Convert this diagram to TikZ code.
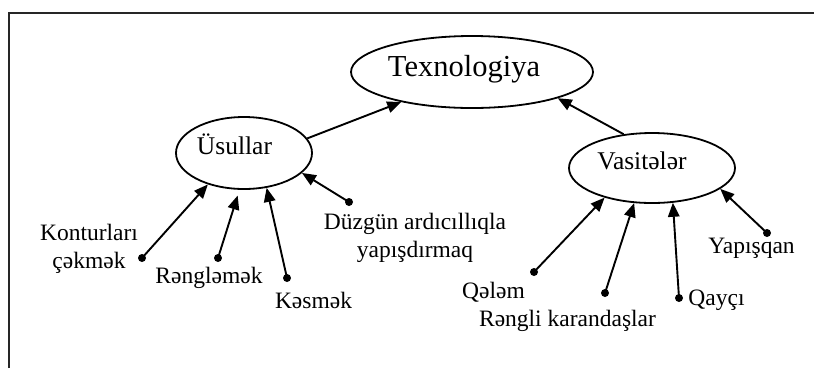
\documentclass[tikz,border=0pt]{standalone}
\usepackage{fontspec}
\setmainfont{Liberation Serif}
\usetikzlibrary{arrows.meta, shapes.geometric}

\begin{document}
\begin{tikzpicture}[x=1pt, y=-1pt]

% -------------------------------------------------------
% Layout parameters
% -------------------------------------------------------
\def\fTop{\fontsize{30.5}{34}\selectfont}    % top ellipse
\def\fMid{\fontsize{25.5}{30}\selectfont}    % middle ellipses
\def\fLeaf{\fontsize{23.5}{27.5}\selectfont} % leaf labels

\tikzstyle{arrow} = [line width=1.9pt, -{Triangle[length=14pt, width=11.5pt]}];
\tikzstyle{bubble} = [draw, ellipse, line width=1.8pt, inner sep=0pt];
\tikzstyle{dot} = [circle, fill, inner sep=0pt, minimum size=8pt];

\useasboundingbox (0,0) rectangle (814,368);

% frame
\draw[line width=2pt, black!85] (8.5,368) -- (8.5,13) -- (814,13);

%%%%%% DRAW ELLIPSES
\node[bubble, minimum width=242pt, minimum height=72pt] (tech) at (472,72) {};
\node[font=\fTop, anchor=base] (techtxt) at (464,76) {Texnologiya};

\node[bubble, minimum width=136pt, minimum height=72pt] (usul) at (244,153) {};
\node[font=\fMid, anchor=base] (usultxt) at (234.5,154) {Üsullar};

\node[bubble, minimum width=166pt, minimum height=70pt] (vasit) at (652,168) {};
\node[font=\fMid, anchor=base] (vasittxt) at (642,169) {Vasitələr};

%%%%%% DRAW DOTS
% Usullar
\node[dot] (dKont) at (142,258) {};
\node[dot] (dReng) at (218,258) {};
\node[dot] (dKesm) at (287,278) {};
\node[dot] (dDuzg) at (349,202) {};
% Vasiteler
\node[dot] (dQelm) at (534,272) {};
\node[dot] (dKara) at (605,293) {};
\node[dot] (dQayc) at (679,298) {};
\node[dot] (dYaps) at (767,233) {};

%%%%%% DRAW LABELS (base = last line)
\node[font=\fLeaf, anchor=base, align=center] (lKont) at (89,268) {Konturları\\çəkmək};
\node[font=\fLeaf, anchor=base] (lReng) at (209,283) {Rəngləmək};
\node[font=\fLeaf, anchor=base] (lKesm) at (313.5,308) {Kəsmək};
\node[font=\fLeaf, anchor=base, align=center] (lDuzg) at (415,257) {Düzgün ardıcıllıqla\\yapışdırmaq};

\node[font=\fLeaf, anchor=base] (lQelm) at (493.5,298) {Qələm};
\node[font=\fLeaf, anchor=base] (lKara) at (567.5,326.5) {Rəngli karandaşlar};
\node[font=\fLeaf, anchor=base] (lQayc) at (716.5,305) {Qayçı};
\node[font=\fLeaf, anchor=base] (lYaps) at (751.5,253) {Yapışqan};

%%%%%% DRAW CONNECTIONS
\draw[arrow] (usul.13) -- (tech.203);
\draw[arrow] (vasit.130) -- (tech.343);

\draw[arrow] (dKont.center) -- (usul.221);
\draw[arrow, shorten >=6pt] (dReng.center) -- (usul.263);
\draw[arrow] (dKesm.center) -- (usul.303);
\draw[arrow] (dDuzg.center) -- (usul.341);

\draw[arrow] (dQelm.center) -- (vasit.212);
\draw[arrow] (dKara.center) -- (vasit.243);
\draw[arrow] (dQayc.center) -- (vasit.301);
\draw[arrow] (dYaps.center) -- (vasit.343);

\end{tikzpicture}
\end{document}
